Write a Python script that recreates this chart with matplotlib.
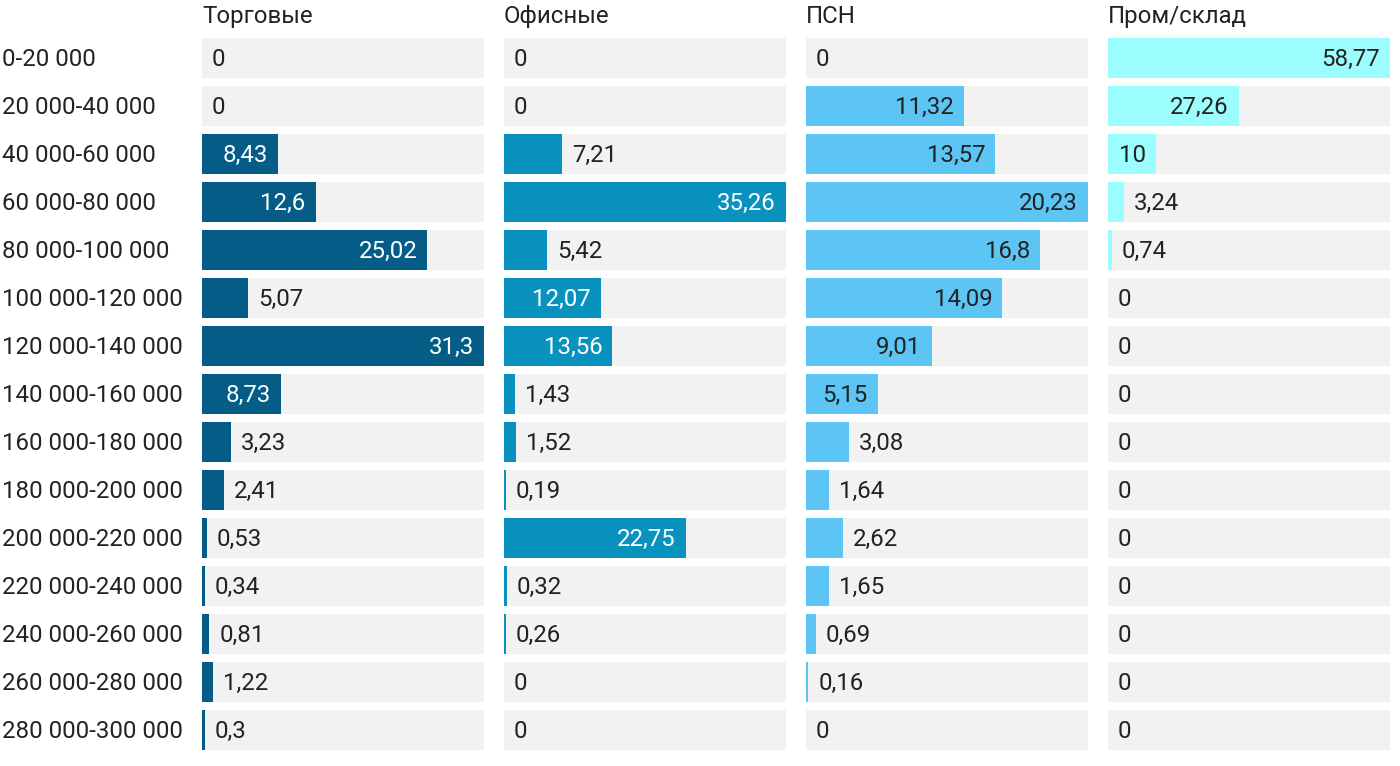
import matplotlib
matplotlib.use('Agg')
import matplotlib.pyplot as plt

plt.rcParams['font.family'] = ['Roboto', 'DejaVu Sans']

ranges = ['0-20 000', '20 000-40 000', '40 000-60 000', '60 000-80 000',
          '80 000-100 000', '100 000-120 000', '120 000-140 000', '140 000-160 000',
          '160 000-180 000', '180 000-200 000', '200 000-220 000', '220 000-240 000',
          '240 000-260 000', '260 000-280 000', '280 000-300 000']

titles = ['Торговые', 'Офисные', 'ПСН', 'Пром/склад']

trade = [0, 0, 8.43, 12.6, 25.02, 5.07, 31.3, 8.73, 3.23, 2.41, 0.53, 0.34, 0.81, 1.22, 0.3]
office = [0, 0, 7.21, 35.26, 5.42, 12.07, 13.56, 1.43, 1.52, 0.19, 22.75, 0.32, 0.26, 0, 0]
psn = [0, 11.32, 13.57, 20.23, 16.8, 14.09, 9.01, 5.15, 3.08, 1.64, 2.62, 1.65, 0.69, 0.16, 0]
storage = [58.77, 27.26, 10, 3.24, 0.74, 0, 0, 0, 0, 0, 0, 0, 0, 0, 0]

series = [trade, office, psn, storage]
colors = ['#045c87', '#0892bd', '#5dc5f3', '#9cfdff']
inside_text = ['white', 'white', '#222222', '#222222']
TEXT = '#222222'
BG = '#f2f2f2'

W, H = 1400, 766
FS = 17.3
fig = plt.figure(figsize=(W / 100, H / 100), dpi=100)
renderer = fig.canvas.get_renderer()

col_left = [202, 504, 806, 1108]
col_w = 282
top, bottom = 34, 754
pad = 10  # px
n = len(ranges)


def fmt(v):
    s = f'{v:.2f}'.rstrip('0').rstrip('.')
    return s.replace('.', ',')


for ci, vals in enumerate(series):
    ax = fig.add_axes([col_left[ci] / W, (H - bottom) / H, col_w / W, (bottom - top) / H])
    vmax = max(vals)
    ax.set_xlim(0, vmax)
    ax.set_ylim(n - 0.5, -0.5)
    ax.axis('off')
    ys = list(range(n))
    ax.barh(ys, [vmax] * n, height=40 / 48, color=BG, linewidth=0)
    ax.barh(ys, vals, height=40 / 48, color=colors[ci], linewidth=0)
    px = vmax / col_w
    for i, v in enumerate(vals):
        lab = fmt(v)
        t = ax.text(0, i + 7.5 / 48, lab, fontsize=FS, va='baseline', ha='left')
        tw = t.get_window_extent(renderer).width
        bw = v / px
        if v > 0 and bw >= tw + 2 * pad:
            t.set_x(v - pad * px)
            t.set_ha('right')
            t.set_color(inside_text[ci])
        else:
            t.set_x(v + pad * px)
            t.set_color(TEXT)
    fig.text(col_left[ci] / W, 1 - 23 / H, titles[ci], fontsize=FS, color=TEXT,
             ha='left', va='baseline')

for i, r in enumerate(ranges):
    fig.text(2 / W, 1 - (58 + 48 * i + 7.5) / H, r, fontsize=FS, color=TEXT,
             ha='left', va='baseline')

fig.savefig('out.png', dpi=100)
